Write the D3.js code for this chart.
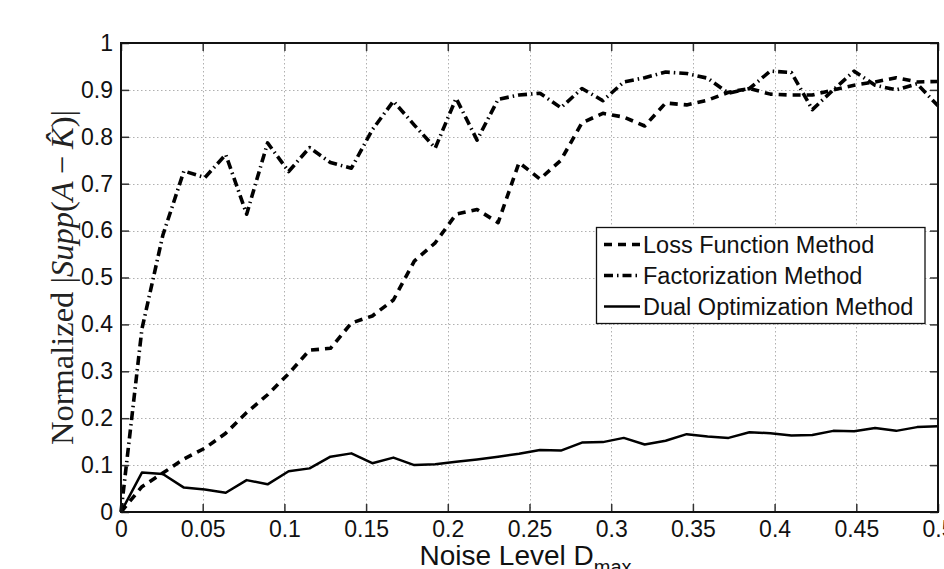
<!DOCTYPE html>
<html>
<head>
<meta charset="utf-8">
<script src="https://cdn.jsdelivr.net/npm/d3@7"></script>
<style>
  body { margin: 0; background: #fff; }
  svg { display: block; }
</style>
</head>
<body>
<svg id="chart" width="944" height="569"></svg>
<script>
// Noise levels D_max (40 evenly spaced samples on [0, 0.5])
const noiseLevels = [0, 0.0128, 0.0256, 0.0385, 0.0513, 0.0641, 0.0769, 0.0897, 0.1026, 0.1154,
  0.1282, 0.1410, 0.1538, 0.1667, 0.1795, 0.1923, 0.2051, 0.2179, 0.2308, 0.2436,
  0.2564, 0.2692, 0.2821, 0.2949, 0.3077, 0.3205, 0.3333, 0.3462, 0.3590, 0.3718,
  0.3846, 0.3974, 0.4103, 0.4231, 0.4359, 0.4487, 0.4615, 0.4744, 0.4872, 0.5];

const lossFunction = [0, 0.054, 0.083, 0.113, 0.136, 0.168, 0.212, 0.250, 0.295, 0.345,
  0.349, 0.403, 0.418, 0.452, 0.535, 0.574, 0.635, 0.645, 0.617, 0.745,
  0.710, 0.750, 0.830, 0.850, 0.842, 0.823, 0.872, 0.868, 0.878, 0.895,
  0.903, 0.891, 0.889, 0.889, 0.900, 0.910, 0.917, 0.926, 0.917, 0.918];

const factorization = [0, 0.390, 0.590, 0.727, 0.713, 0.762, 0.635, 0.787, 0.726, 0.777,
  0.745, 0.733, 0.815, 0.876, 0.825, 0.776, 0.882, 0.793, 0.880, 0.889,
  0.893, 0.862, 0.903, 0.877, 0.917, 0.926, 0.938, 0.935, 0.925, 0.893,
  0.903, 0.940, 0.937, 0.858, 0.900, 0.940, 0.910, 0.900, 0.913, 0.866];

const dualOptimization = [0, 0.084, 0.081, 0.052, 0.048, 0.041, 0.068, 0.059, 0.087, 0.093,
  0.118, 0.125, 0.104, 0.116, 0.100, 0.102, 0.107, 0.112, 0.118, 0.124,
  0.132, 0.131, 0.148, 0.149, 0.158, 0.144, 0.152, 0.166, 0.161, 0.158,
  0.170, 0.168, 0.163, 0.164, 0.173, 0.172, 0.179, 0.173, 0.181, 0.183];

const xTickValues = [0, 0.05, 0.1, 0.15, 0.2, 0.25, 0.3, 0.35, 0.4, 0.45, 0.5];
const xTickLabels = ["0", "0.05", "0.1", "0.15", "0.2", "0.25", "0.3", "0.35", "0.4", "0.45", "0.5"];
const yTickValues = [0, 0.1, 0.2, 0.3, 0.4, 0.5, 0.6, 0.7, 0.8, 0.9, 1];
const yTickLabels = ["0", "0.1", "0.2", "0.3", "0.4", "0.5", "0.6", "0.7", "0.8", "0.9", "1"];

const seriesNames = ["Loss Function Method", "Factorization Method", "Dual Optimization Method"];

const sansFont = "'Liberation Sans', Arial, Helvetica, sans-serif";
const serifFont = "'Liberation Serif', 'Times New Roman', serif";

const plot = { left: 121, right: 938, top: 43, bottom: 512 };

const svg = d3.select("#chart");
svg.append("rect").attr("width", 944).attr("height", 569).attr("fill", "#fff");

const x = d3.scaleLinear().domain([0, 0.5]).range([plot.left, plot.right]);
const y = d3.scaleLinear().domain([0, 1]).range([plot.bottom, plot.top]);

// Dotted grid
const grid = svg.append("g").attr("stroke", "#b0b0b0").attr("stroke-width", 1)
  .attr("stroke-dasharray", "1.5,2.5").attr("fill", "none");
grid.selectAll("line.gx").data(xTickValues.slice(1, -1)).join("line")
  .attr("x1", d => Math.round(x(d)) + 0.5).attr("x2", d => Math.round(x(d)) + 0.5)
  .attr("y1", plot.top).attr("y2", plot.bottom);
grid.selectAll("line.gy").data(yTickValues.slice(1, -1)).join("line")
  .attr("y1", d => Math.round(y(d)) + 0.5).attr("y2", d => Math.round(y(d)) + 0.5)
  .attr("x1", plot.left).attr("x2", plot.right);

// Data lines
const line = d3.line().x((d, i) => x(noiseLevels[i])).y(d => y(d));
const styles = [
  { data: lossFunction, width: 3.6, dash: "8,6" },
  { data: factorization, width: 3.6, dash: "9,4,1.5,4" },
  { data: dualOptimization, width: 2.5, dash: null }
];
styles.forEach(s => {
  svg.append("path").datum(s.data)
    .attr("d", line)
    .attr("fill", "none")
    .attr("stroke", "#000")
    .attr("stroke-width", s.width)
    .attr("stroke-linejoin", "round")
    .attr("stroke-dasharray", s.dash);
});

// Axes with inward ticks on all four sides
const tickLen = 8;
const xAxis = d3.axisBottom(x).tickValues(xTickValues)
  .tickFormat((d, i) => xTickLabels[i]).tickSizeInner(-tickLen).tickSizeOuter(0).tickPadding(9);
const yAxis = d3.axisLeft(y).tickValues(yTickValues)
  .tickFormat((d, i) => yTickLabels[i]).tickSizeInner(-tickLen).tickSizeOuter(0).tickPadding(8);

const gx = svg.append("g").attr("transform", `translate(0,${plot.bottom})`).call(xAxis);
const gy = svg.append("g").attr("transform", `translate(${plot.left},0)`).call(yAxis);
const gTop = svg.append("g").attr("transform", `translate(0,${plot.top})`)
  .call(d3.axisTop(x).tickValues(xTickValues).tickFormat("").tickSizeInner(-tickLen).tickSizeOuter(0));
const gRight = svg.append("g").attr("transform", `translate(${plot.right},0)`)
  .call(d3.axisRight(y).tickValues(yTickValues).tickFormat("").tickSizeInner(-tickLen).tickSizeOuter(0));

[gx, gy, gTop, gRight].forEach(g => {
  g.select(".domain").remove();
  g.selectAll(".tick line").attr("stroke", "#333").attr("stroke-width", 1.5);
  g.selectAll(".tick text").attr("font-family", sansFont).attr("font-size", 23).attr("fill", "#111");
});

// Axes box
svg.append("rect")
  .attr("x", plot.left).attr("y", plot.top)
  .attr("width", plot.right - plot.left).attr("height", plot.bottom - plot.top)
  .attr("fill", "none").attr("stroke", "#111").attr("stroke-width", 2);

// X axis title
const xTitle = svg.append("text")
  .attr("x", (plot.left + plot.right) / 2 - 4).attr("y", 565)
  .attr("text-anchor", "middle")
  .attr("font-family", sansFont).attr("font-size", 28).attr("fill", "#111");
xTitle.append("tspan").text("Noise Level D");
xTitle.append("tspan").attr("font-size", 20).attr("dy", 9).text("max");

// Y axis title (math part set in italic, like a LaTeX label)
const yTitle = svg.append("text")
  .attr("transform", `translate(73,${(plot.top + plot.bottom) / 2}) rotate(-90)`)
  .attr("text-anchor", "middle")
  .attr("font-family", serifFont).attr("font-size", 32.5).attr("fill", "#222");
yTitle.append("tspan").text("Normalized |");
yTitle.append("tspan").attr("font-style", "italic").text("Supp");
yTitle.append("tspan").text("(");
yTitle.append("tspan").attr("font-style", "italic").text("A");
yTitle.append("tspan").attr("dx", 7).text("\u2212");
yTitle.append("tspan").attr("dx", 7).attr("font-style", "italic").text("K\u0302");
yTitle.append("tspan").text(")|");

// Legend
const legend = svg.append("g");
legend.append("rect")
  .attr("x", 596.5).attr("y", 227.5).attr("width", 328.5).attr("height", 96)
  .attr("fill", "#fff").attr("stroke", "#111").attr("stroke-width", 1.3);
seriesNames.forEach((name, i) => {
  const cy = 244.5 + i * 31;
  legend.append("line")
    .attr("x1", 604).attr("x2", 640).attr("y1", cy).attr("y2", cy)
    .attr("stroke", "#000").attr("stroke-width", styles[i].width)
    .attr("stroke-dasharray", styles[i].dash);
  legend.append("text")
    .attr("x", 643).attr("y", cy + 8.5)
    .attr("font-family", sansFont).attr("font-size", 23.5).attr("fill", "#111")
    .text(name);
});
</script>
</body>
</html>
